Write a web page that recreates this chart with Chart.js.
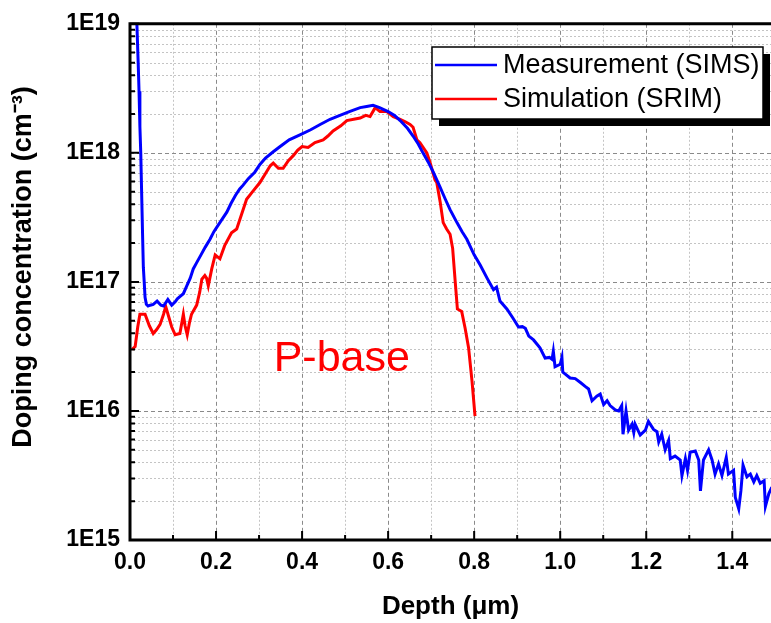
<!DOCTYPE html>
<html><head><meta charset="utf-8">
<script src="https://cdn.jsdelivr.net/npm/chart.js@4/dist/chart.umd.min.js"></script>
<style>html,body{margin:0;padding:0;background:#fff;overflow:hidden}canvas{display:block}</style>
</head><body>
<canvas id="c" width="771" height="623"></canvas>
<script>
// ---- data (depth in µm, concentration in cm^-3) ----
const seriesLabels = ['Measurement (SIMS)', 'Simulation (SRIM)'];
const simsDepth = [0.010,0.016,0.019,0.021,0.023,0.025,0.027,0.029,0.031,0.033,0.035,0.038,0.042,0.047,0.054,0.063,0.072,0.078,0.088,0.097,0.105,0.110,0.118,0.124,0.132,0.140,0.147,0.155,0.165,0.175,0.186,0.195,0.205,0.215,0.225,0.235,0.245,0.255,0.263,0.275,0.290,0.302,0.315,0.333,0.349,0.370,0.395,0.420,0.442,0.465,0.488,0.510,0.535,0.550,0.565,0.580,0.600,0.615,0.628,0.645,0.658,0.670,0.681,0.693,0.705,0.720,0.733,0.744,0.760,0.772,0.783,0.800,0.814,0.830,0.845,0.852,0.860,0.876,0.890,0.903,0.912,0.919,0.927,0.938,0.953,0.965,0.975,0.981,0.984,0.988,1.000,1.004,1.006,1.023,1.035,1.047,1.058,1.066,1.074,1.085,1.093,1.101,1.109,1.116,1.128,1.136,1.143,1.146,1.153,1.159,1.167,1.171,1.174,1.186,1.198,1.205,1.217,1.225,1.229,1.236,1.244,1.252,1.256,1.267,1.279,1.283,1.291,1.296,1.302,1.314,1.322,1.326,1.333,1.345,1.353,1.360,1.368,1.376,1.386,1.391,1.403,1.407,1.415,1.420,1.425,1.434,1.442,1.450,1.457,1.465,1.474,1.477,1.485,1.492];
const simsConc = [2.0e19,1.0e19,5.0e18,3.0e18,1.6e18,1.0e18,5.0e17,2.5e17,1.3e17,1.0e17,7.6e16,6.7e16,6.5e16,6.6e16,6.7e16,7.1e16,6.6e16,6.5e16,7.3e16,6.6e16,7.0e16,7.4e16,7.8e16,8.1e16,9.3e16,1.07e17,1.26e17,1.41e17,1.62e17,1.86e17,2.14e17,2.45e17,2.75e17,3.09e17,3.47e17,4.07e17,4.68e17,5.25e17,5.62e17,6.31e17,7.08e17,8.13e17,9.12e17,1.02e18,1.12e18,1.26e18,1.38e18,1.51e18,1.66e18,1.82e18,1.95e18,2.09e18,2.24e18,2.29e18,2.34e18,2.24e18,2.09e18,1.95e18,1.78e18,1.55e18,1.35e18,1.17e18,1.0e18,8.51e17,7.08e17,5.5e17,4.37e17,3.63e17,2.88e17,2.45e17,2.14e17,1.62e17,1.35e17,1.07e17,8.7e16,9.1e16,7.1e16,6.17e16,5.25e16,4.47e16,4.5e16,4.37e16,3.8e16,3.55e16,3.09e16,2.57e16,2.6e16,2.51e16,2.9e16,2.2e16,2.3e16,2.6e16,2.0e16,1.8e16,1.78e16,1.66e16,1.55e16,1.48e16,1.2e16,1.3e16,1.35e16,1.12e16,1.2e16,1.1e16,1.02e16,1.0e16,1.1e16,6.6e15,1.0e16,7.1e15,7.9e15,6.8e15,7.9e15,6.5e15,7.1e15,8.3e15,7.2e15,6.9e15,5.75e15,6.6e15,5.0e15,5.9e15,4.27e15,4.47e15,4.17e15,3.16e15,4.27e15,3.47e15,4.79e15,4.9e15,4.17e15,2.4e15,4.17e15,5.0e15,4.17e15,3.24e15,3.89e15,3.16e15,4.37e15,3.24e15,3.47e15,2.14e15,1.74e15,2.4e15,3.8e15,3.09e15,3.24e15,2.82e15,3.16e15,2.75e15,2.88e15,1.82e15,2.29e15,2.57e15];
const srimDepth = [0.005,0.012,0.018,0.023,0.035,0.045,0.054,0.062,0.070,0.078,0.083,0.090,0.097,0.105,0.116,0.124,0.128,0.133,0.138,0.143,0.155,0.162,0.167,0.174,0.178,0.182,0.190,0.198,0.209,0.220,0.236,0.248,0.260,0.271,0.285,0.302,0.315,0.326,0.333,0.345,0.356,0.368,0.380,0.390,0.400,0.414,0.430,0.449,0.460,0.472,0.490,0.504,0.520,0.535,0.548,0.558,0.570,0.581,0.597,0.612,0.628,0.640,0.651,0.658,0.667,0.674,0.690,0.698,0.709,0.713,0.721,0.728,0.736,0.744,0.750,0.756,0.761,0.771,0.779,0.787,0.795,0.802];
const srimConc = [3.0e16,3.16e16,4.47e16,5.62e16,5.62e16,4.57e16,3.98e16,4.27e16,4.68e16,5.62e16,6.46e16,5.37e16,4.47e16,3.89e16,3.98e16,5.62e16,4.57e16,3.89e16,4.79e16,5.62e16,6.61e16,8.32e16,1.05e17,1.12e17,1.07e17,9.33e16,1.26e17,1.62e17,1.51e17,1.91e17,2.4e17,2.57e17,3.39e17,4.37e17,5.01e17,5.89e17,6.92e17,7.94e17,8.32e17,7.59e17,7.59e17,8.71e17,9.55e17,1.05e18,1.12e18,1.10e18,1.20e18,1.26e18,1.35e18,1.48e18,1.62e18,1.78e18,1.82e18,1.86e18,1.95e18,1.91e18,2.24e18,2.09e18,2.09e18,1.91e18,1.82e18,1.74e18,1.66e18,1.58e18,1.26e18,1.20e18,1.0e18,8.32e17,6.17e17,5.89e17,4.17e17,2.88e17,2.57e17,2.34e17,1.82e17,1.0e17,6.17e16,5.89e16,4.37e16,3.09e16,1.70e16,9.1e15];
const xMajorTicks = [0.0,0.2,0.4,0.6,0.8,1.0,1.2,1.4];
const xMinorTicks = [0.1,0.3,0.5,0.7,0.9,1.1,1.3];
const yDecades = [1e15,1e16,1e17,1e18,1e19];
const annotation = {text:'P-base', x:0.334, y:2.04e16};

const FONT = "'Liberation Sans', Arial, Helvetica, sans-serif";

const framePlugin = {
  id:'frame',
  beforeDatasetsDraw(chart){
    const {ctx, chartArea:a, scales:{x, y}} = chart;
    ctx.save();
    ctx.lineWidth = 1;
    ctx.strokeStyle = '#c4c4c4';
    ctx.setLineDash([2,2]);
    ctx.beginPath();
    xMinorTicks.forEach(v=>{const p=Math.round(x.getPixelForValue(v))+0.5; ctx.moveTo(p,a.top); ctx.lineTo(p,a.bottom);});
    for(let i=0;i<yDecades.length-1;i++){for(let m=2;m<=9;m++){const p=Math.round(y.getPixelForValue(m*yDecades[i]))+0.5; ctx.moveTo(a.left,p); ctx.lineTo(a.right,p);}}
    ctx.stroke();
    ctx.strokeStyle = '#8a8a8a';
    ctx.setLineDash([4,3]);
    ctx.beginPath();
    xMajorTicks.slice(1).forEach(v=>{const p=Math.round(x.getPixelForValue(v))+0.5; ctx.moveTo(p,a.top); ctx.lineTo(p,a.bottom);});
    yDecades.slice(1,-1).forEach(v=>{const p=Math.round(y.getPixelForValue(v))+0.5; ctx.moveTo(a.left,p); ctx.lineTo(a.right,p);});
    ctx.stroke();
    ctx.restore();
  },
  afterDatasetsDraw(chart){
    const {ctx, chartArea:a, scales:{x, y}} = chart;
    ctx.save();
    ctx.setLineDash([]);
    ctx.strokeStyle = '#000';
    ctx.lineWidth = 2;
    ctx.beginPath();
    xMajorTicks.forEach(v=>{const p=x.getPixelForValue(v); ctx.moveTo(p,a.bottom); ctx.lineTo(p,a.bottom-9);});
    xMinorTicks.forEach(v=>{const p=x.getPixelForValue(v); ctx.moveTo(p,a.bottom); ctx.lineTo(p,a.bottom-5);});
    yDecades.forEach(v=>{const p=y.getPixelForValue(v); ctx.moveTo(a.left,p); ctx.lineTo(a.left+9,p);});
    for(let i=0;i<yDecades.length-1;i++){for(let m=2;m<=9;m++){const p=y.getPixelForValue(m*yDecades[i]); ctx.moveTo(a.left,p); ctx.lineTo(a.left+5,p);}}
    ctx.stroke();
    ctx.lineWidth = 3;
    ctx.beginPath();
    ctx.moveTo(a.left, a.top-1.5); ctx.lineTo(a.left, a.bottom+1.5);
    ctx.moveTo(a.left-1.5, a.bottom); ctx.lineTo(a.right, a.bottom);
    ctx.moveTo(a.left-1.5, a.top); ctx.lineTo(a.right, a.top);
    ctx.stroke();
    ctx.restore();
  },
  afterDraw(chart){
    const {ctx, scales:{x, y}} = chart;
    ctx.save();
    ctx.fillStyle = '#ff0000';
    ctx.font = "43px " + FONT;
    ctx.textBaseline = 'alphabetic';
    ctx.textAlign = 'left';
    ctx.fillText(annotation.text, x.getPixelForValue(annotation.x), y.getPixelForValue(annotation.y));
    const bx=432, by=47, bw=331, bh=72;
    ctx.fillStyle = '#000';
    ctx.fillRect(bx+7, by+7, bw, bh);
    ctx.fillStyle = '#fff';
    ctx.fillRect(bx, by, bw, bh);
    ctx.strokeStyle = '#000';
    ctx.lineWidth = 1.5;
    ctx.strokeRect(bx, by, bw, bh);
    const rows = [65, 99];
    chart.data.datasets.forEach((ds,i)=>{
      ctx.strokeStyle = ds.borderColor;
      ctx.lineWidth = 2.5;
      ctx.beginPath(); ctx.moveTo(435, rows[i]); ctx.lineTo(497, rows[i]); ctx.stroke();
      ctx.fillStyle = '#000';
      ctx.font = "27px " + FONT;
      ctx.textBaseline = 'middle';
      ctx.fillText(ds.label, 503, rows[i]+1);
    });
    ctx.restore();
  }
};

new Chart(document.getElementById('c'), {
  type:'line',
  data:{datasets:[
    {label:seriesLabels[0], data:simsDepth.map((d,i)=>({x:d, y:simsConc[i]})), borderColor:'#0000ff', borderWidth:3, pointRadius:0, fill:false, tension:0},
    {label:seriesLabels[1], data:srimDepth.map((d,i)=>({x:d, y:srimConc[i]})), borderColor:'#ff0000', borderWidth:3, pointRadius:0, fill:false, tension:0}
  ]},
  options:{
    responsive:false, animation:false, devicePixelRatio:1,
    layout:{padding:{left:0, top:20, right:0, bottom:0}},
    plugins:{legend:{display:false}, tooltip:{enabled:false}},
    scales:{
      x:{type:'linear', min:0, max:1.49,
        ticks:{stepSize:0.2, includeBounds:false, autoSkip:false, maxRotation:0, padding:9, color:'#000',
          font:{family:FONT, size:23, weight:'bold'}, callback:v=>Number(v).toFixed(1)},
        grid:{display:false, drawTicks:false}, border:{display:false},
        title:{display:true, text:'Depth (μm)', color:'#000', font:{family:FONT, size:26, weight:'bold'}, padding:{top:0, bottom:1}},
        afterFit(s){ s.height = 83; }
      },
      y:{type:'logarithmic', min:1e15, max:1e19,
        ticks:{autoSkip:false, padding:10, color:'#000', font:{family:FONT, size:23, weight:'bold'},
          callback:v=>{const e=Math.log10(v); return Math.abs(e-Math.round(e))<1e-6 ? '1E'+Math.round(e) : '';}},
        grid:{display:false, drawTicks:false}, border:{display:false},
        title:{display:true, text:'    Doping concentration (cm⁻³)', color:'#000', font:{family:FONT, size:27, weight:'bold'}, padding:{top:7, bottom:0}},
        afterFit(s){ s.width = 130; }
      }
    }
  },
  plugins:[framePlugin]
});
</script>
</body></html>
